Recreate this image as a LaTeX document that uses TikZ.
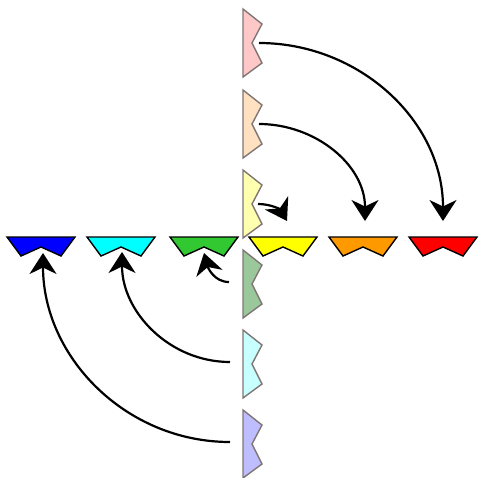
\documentclass[tikz,border=0pt]{standalone}
\usetikzlibrary{arrows.meta}
\definecolor{cBlue}{RGB}{0,0,255}
\definecolor{cCyan}{RGB}{0,255,255}
\definecolor{cGreen}{RGB}{50,200,50}
\definecolor{cYellow}{RGB}{255,255,0}
\definecolor{cOrange}{RGB}{255,153,0}
\definecolor{cRed}{RGB}{255,0,0}
\definecolor{vRed}{RGB}{255,200,200}
\definecolor{vOrange}{RGB}{255,224,192}
\definecolor{vYellow}{RGB}{255,255,176}
\definecolor{vGreen}{RGB}{155,200,155}
\definecolor{vCyan}{RGB}{200,255,255}
\definecolor{vBlue}{RGB}{190,190,255}
\definecolor{vEdge}{RGB}{128,118,118}
\tikzset{
  hshape/.style={draw=black,line width=1.4pt,line join=miter},
  vshape/.style={draw=vEdge,line width=1.4pt,line join=miter},
  bigtip/.tip={Stealth[length=21pt,width=27pt,inset=6.5pt]},
  movearrow/.style={line width=2.2pt,-bigtip},
}
\begin{document}
\begin{tikzpicture}[x=1pt,y=-1pt]
\useasboundingbox (0,0) rectangle (479,477);
% horizontal row
\foreach \x/\c in {7/cBlue,87/cCyan,170/cGreen,249/cYellow,329/cOrange,409/cRed}{
  \draw[hshape,fill=\c] (\x,237) -- ++(68,0) -- ++(-14,19) -- ++(-20,-9) -- ++(-20,9) -- cycle;
}
% vertical column
\foreach \y/\c in {9/vRed,90/vOrange,170/vYellow,250/vGreen,330/vCyan,410/vBlue}{
  \draw[vshape,fill=\c] (243,\y) -- ++(19,15) -- ++(-10,19) -- ++(10,20) -- ++(-19,14) -- cycle;
}
% anchor coordinates
\coordinate (sr) at (259,43);
\coordinate (so) at (259,124);
\coordinate (sy) at (258,204);
\coordinate (sg) at (229,282);
\coordinate (sc) at (230,362);
\coordinate (sb) at (230,442);
\coordinate (tr) at (443,221);
\coordinate (to) at (365,221);
\coordinate (ty) at (287,221);
\coordinate (tg) at (204,253);
\coordinate (tc) at (122,252);
\coordinate (tb) at (43,253);
% arrows
\draw[movearrow] (sr) to[out=0,in=90] (tr);
\draw[movearrow] (so) to[out=0,in=90] (to);
\draw[movearrow] (sy) to[out=0,in=120] (ty);
\draw[movearrow] (sg) to[out=180,in=-75] (tg);
\draw[movearrow] (sc) to[out=180,in=-90] (tc);
\draw[movearrow] (sb) to[out=180,in=-90] (tb);
\end{tikzpicture}
\end{document}
